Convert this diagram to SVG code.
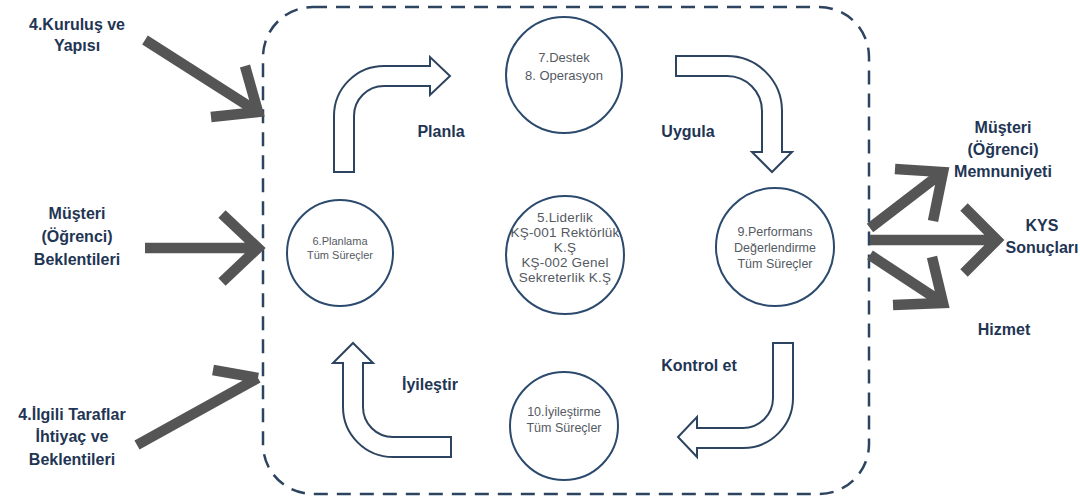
<svg xmlns="http://www.w3.org/2000/svg" width="1080" height="502" viewBox="0 0 1080 502">
<style>
.bg{fill:#ffffff}
.frame{fill:none;stroke:#2c4460;stroke-width:2.5;stroke-dasharray:14 9}
.node{fill:#ffffff;stroke:#2c4a6e;stroke-width:2}
.ntext{font-family:"Liberation Sans",Arial,sans-serif;fill:#555a62;text-anchor:middle}
.block{fill:#ffffff;stroke:#2c4460;stroke-width:2;stroke-linejoin:miter}
.lbl{font-family:"Liberation Sans",Arial,sans-serif;font-weight:bold;font-size:16px;fill:#1f3554;text-anchor:middle}
.gray{fill:none;stroke:#555555;stroke-width:10.5;stroke-linecap:butt;stroke-linejoin:miter}
</style>
<rect class="bg" x="0" y="0" width="1080" height="502"/>
<rect class="frame" x="263" y="7" width="606" height="487" rx="50" ry="50"/>

<g id="connectors">
  <path id="arrow-planla" class="block" d="M334,172 L334,116 A50,50 0 0 1 384,66 L430,66 L430,57 L450,76 L430,95 L430,86 L384,86 A30,30 0 0 0 354,116 L354,172 Z"/>
  <path id="arrow-uygula" class="block" d="M676,56 L727,56 A55,55 0 0 1 782,111 L782,152 L792,152 L772,172 L752,152 L762,152 L762,111 A35,35 0 0 0 727,76 L676,76 Z"/>
  <path id="arrow-kontrol" class="block" d="M773,343 L793,343 L793,398 A50,50 0 0 1 743,448 L697,448 L697,457 L678,437 L697,417 L697,428 L743,428 A30,30 0 0 0 773,398 Z"/>
  <path id="arrow-iyilestir" class="block" d="M451,437 L451,457 L393,457 A50,50 0 0 1 343,407 L343,363 L333,363 L353,343 L373,363 L363,363 L363,407 A30,30 0 0 0 393,437 Z"/>
  <path class="gray" d="M145,40 L258,112 M245,66 L258,112 L211,117"/>
  <path class="gray" d="M145,248 L258,248 M222,214 L258,248 L222,282"/>
  <path class="gray" d="M137,445 L258,378 M213,370 L258,378"/>
  <path class="gray" d="M870,228 L943,172 M895,169 L943,172 L933,221"/>
  <path class="gray" d="M870,240 L995,240 M964,207 L997,240 L964,273"/>
  <path class="gray" d="M870,255 L943,303 M932,257 L943,303 L893,305"/>
</g>

<g id="node-destek">
  <circle class="node" cx="564" cy="75" r="58"/>
  <text class="ntext" font-size="13" x="564" y="62">7.Destek</text>
  <text class="ntext" font-size="13" x="564" y="80">8. Operasyon</text>
</g>
<g id="node-planlama">
  <circle class="node" cx="340" cy="253" r="53"/>
  <text class="ntext" font-size="11" x="340" y="245">6.Planlama</text>
  <text class="ntext" font-size="11" x="340" y="259">Tüm Süreçler</text>
</g>
<g id="node-liderlik">
  <circle class="node" cx="565" cy="255" r="59"/>
  <text class="ntext" font-size="13.5" x="565" y="222" letter-spacing="0.2">5.Liderlik</text>
  <text class="ntext" font-size="13.5" x="565" y="237" letter-spacing="0.2">KŞ-001 Rektörlük</text>
  <text class="ntext" font-size="13.5" x="565" y="252" letter-spacing="0.2">K.Ş</text>
  <text class="ntext" font-size="13.5" x="565" y="267" letter-spacing="0.2">KŞ-002 Genel</text>
  <text class="ntext" font-size="13.5" x="565" y="282" letter-spacing="0.2">Sekreterlik K.Ş</text>
</g>
<g id="node-performans">
  <circle class="node" cx="775" cy="247" r="59"/>
  <text class="ntext" font-size="12.5" x="775" y="236">9.Performans</text>
  <text class="ntext" font-size="12.5" x="775" y="252">Değerlendirme</text>
  <text class="ntext" font-size="12.5" x="775" y="268">Tüm Süreçler</text>
</g>
<g id="node-iyilestirme">
  <circle class="node" cx="564" cy="426" r="54"/>
  <text class="ntext" font-size="12.5" x="564" y="416">10.İyileştirme</text>
  <text class="ntext" font-size="12.5" x="564" y="432">Tüm Süreçler</text>
</g>

<g id="labels">
  <text class="lbl" x="441" y="137">Planla</text>
  <text class="lbl" x="688" y="137">Uygula</text>
  <text class="lbl" x="699" y="371">Kontrol et</text>
  <text class="lbl" x="430" y="390">İyileştir</text>
</g>

<g id="input-kurulus">
  <text class="lbl" x="77" y="30">4.Kuruluş ve</text>
  <text class="lbl" x="77" y="51">Yapısı</text>
</g>
<g id="input-beklenti">
  <text class="lbl" x="77" y="219">Müşteri</text>
  <text class="lbl" x="77" y="242">(Öğrenci)</text>
  <text class="lbl" x="77" y="265">Beklentileri</text>
</g>
<g id="input-ilgili">
  <text class="lbl" x="72" y="420">4.İlgili Taraflar</text>
  <text class="lbl" x="72" y="442">İhtiyaç ve</text>
  <text class="lbl" x="72" y="465">Beklentileri</text>
</g>
<g id="output-memnuniyet">
  <text class="lbl" x="1003" y="133">Müşteri</text>
  <text class="lbl" x="1003" y="155">(Öğrenci)</text>
  <text class="lbl" x="1003" y="177">Memnuniyeti</text>
</g>
<g id="output-kys">
  <text class="lbl" x="1042" y="231">KYS</text>
  <text class="lbl" x="1042" y="253">Sonuçları</text>
</g>
<g id="output-hizmet">
  <text class="lbl" x="1004" y="335">Hizmet</text>
</g>
</svg>
